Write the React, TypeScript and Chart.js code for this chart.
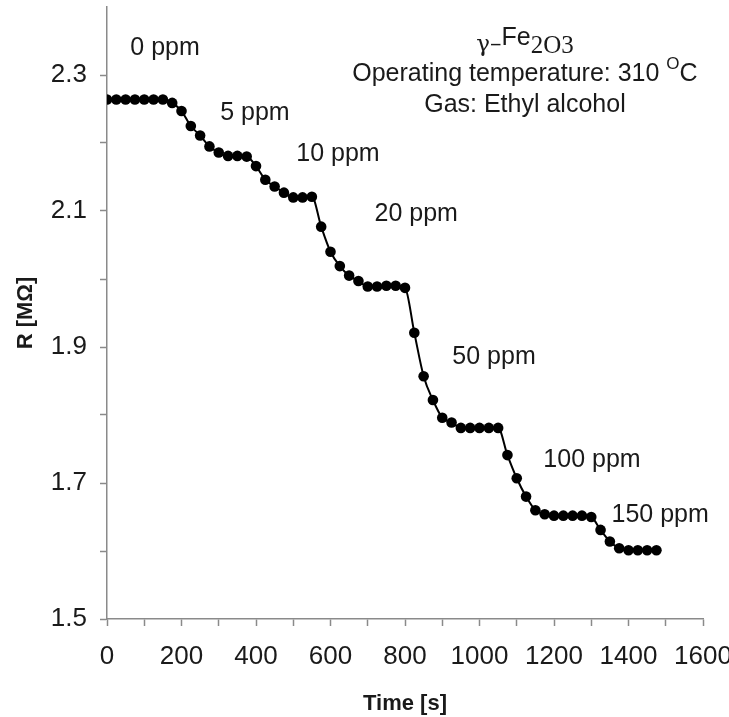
import React, { useEffect, useRef } from "react";
import { Chart, registerables } from "chart.js";

Chart.register(...registerables);

// Time [s] sampled every 25 s
const times: number[] = [
  0, 25, 50, 75, 100, 125, 150, 175, 200, 225, 250, 275, 300, 325, 350, 375, 400, 425, 450, 475,
  500, 525, 550, 575, 600, 625, 650, 675, 700, 725, 750, 775, 800, 825, 850, 875, 900, 925, 950, 975,
  1000, 1025, 1050, 1075, 1100, 1125, 1150, 1175, 1200, 1225, 1250, 1275, 1300, 1325, 1350, 1375, 1400, 1425, 1450, 1475,
];

// Resistance [MΩ]
const resistance: number[] = [
  2.264, 2.264, 2.264, 2.264, 2.264, 2.264, 2.264, 2.259, 2.247, 2.225,
  2.211, 2.195, 2.186, 2.181, 2.181, 2.180, 2.166, 2.146, 2.136, 2.127,
  2.120, 2.120, 2.121, 2.077, 2.040, 2.019, 2.005, 1.997, 1.989, 1.989,
  1.990, 1.990, 1.987, 1.921, 1.857, 1.822, 1.796, 1.789, 1.781, 1.781,
  1.781, 1.781, 1.781, 1.741, 1.707, 1.680, 1.660, 1.654, 1.652, 1.652,
  1.652, 1.652, 1.650, 1.631, 1.614, 1.604, 1.601, 1.601, 1.601, 1.601,
];

const yLabeledTicks: number[] = [1.5, 1.7, 1.9, 2.1, 2.3];
const xLabeledTicks: number[] = [0, 200, 400, 600, 800, 1000, 1200, 1400, 1600];

// concentration annotations (text, anchor time, anchor R)
const concLabels: string[] = ["0 ppm", "5 ppm", "10 ppm", "20 ppm", "50 ppm", "100 ppm", "150 ppm"];
const concX: number[] = [156, 397, 620, 830, 1039, 1302, 1485];
const concY: number[] = [2.34, 2.244, 2.183, 2.095, 1.885, 1.734, 1.653];

const infoX = 1122;
const infoY: number[] = [2.348, 2.301, 2.255];

const FONT = "'Liberation Sans', Arial, sans-serif";
const TEXT = "#1a1a1a";
const AXIS = "#8a8a8a";
const ANN_SIZE = 25;

const annotationPlugin = {
  id: "annots",
  afterDraw(chart: any) {
    const { ctx, scales } = chart;
    const xs = scales.x;
    const ys = scales.y;
    ctx.save();
    ctx.fillStyle = TEXT;
    ctx.textBaseline = "middle";
    ctx.textAlign = "center";
    ctx.font = `${ANN_SIZE}px ${FONT}`;
    concLabels.forEach((t, i) => {
      ctx.fillText(t, xs.getPixelForValue(concX[i]), ys.getPixelForValue(concY[i]));
    });

    const cx = xs.getPixelForValue(infoX);
    // line 1: γ–Fe2O3 (mixed)
    {
      const y = ys.getPixelForValue(infoY[0]);
      const p1 = "\u03b3\u2013";
      const p2 = "Fe";
      const p3 = "2O3";
      const f1 = `23px 'DejaVu Serif', serif`;
      const f2 = `${ANN_SIZE}px ${FONT}`;
      const f3 = `25px 'Liberation Serif', serif`;
      ctx.font = f1; const w1 = ctx.measureText(p1).width;
      ctx.font = f2; const w2 = ctx.measureText(p2).width;
      ctx.font = f3; const w3 = ctx.measureText(p3).width;
      let x = cx - (w1 + w2 + w3) / 2;
      ctx.textAlign = "left";
      ctx.font = f1; ctx.fillText(p1, x, y + 3); x += w1;
      ctx.font = f2; ctx.fillText(p2, x, y - 4); x += w2;
      ctx.font = f3; ctx.fillText(p3, x, y + 4);
    }
    // line 2: Operating temperature: 310 °C
    {
      const y = ys.getPixelForValue(infoY[1]);
      const a = "Operating temperature: 310 ";
      const b = "O";
      const c = "C";
      ctx.font = `${ANN_SIZE}px ${FONT}`; const wa = ctx.measureText(a).width; const wc = ctx.measureText(c).width;
      ctx.font = `17px ${FONT}`; const wb = ctx.measureText(b).width;
      let x = cx - (wa + wb + wc) / 2;
      ctx.textAlign = "left";
      ctx.font = `${ANN_SIZE}px ${FONT}`; ctx.fillText(a, x, y); x += wa;
      ctx.font = `17px ${FONT}`; ctx.fillText(b, x, y - 10); x += wb;
      ctx.font = `${ANN_SIZE}px ${FONT}`; ctx.fillText(c, x, y);
    }
    // line 3
    {
      const y = ys.getPixelForValue(infoY[2]);
      ctx.textAlign = "center";
      ctx.font = `${ANN_SIZE}px ${FONT}`;
      ctx.fillText("Gas: Ethyl alcohol", cx, y);
    }
    ctx.restore();
  },
};

export default function App() {
  const ref = useRef<HTMLCanvasElement | null>(null);
  useEffect(() => {
    if (!ref.current) return;
    const chart = new Chart(ref.current, {
      type: "line",
      data: {
        datasets: [
          {
            data: times.map((t, i) => ({ x: t, y: resistance[i] })),
            borderColor: "#000",
            backgroundColor: "#000",
            borderWidth: 2,
            pointRadius: 5.3,
            pointBorderWidth: 0,
            pointBackgroundColor: "#000",
            cubicInterpolationMode: "monotone",
          },
        ],
      },
      options: {
        responsive: false,
        animation: false,
        layout: { padding: { top: 7, right: 26, left: 0, bottom: 0 } },
        plugins: { legend: { display: false }, tooltip: { enabled: false } },
        scales: {
          x: {
            type: "linear",
            min: 0,
            max: 1600,
            afterFit(scale: any) {
              scale.height = 98;
              scale.paddingLeft = 0;
              scale.paddingRight = 0;
            },
            afterBuildTicks(scale: any) {
              const t: any[] = [];
              for (let v = 0; v <= 1600; v += 100) t.push({ value: v });
              scale.ticks = t;
            },
            grid: {
              drawOnChartArea: false,
              drawTicks: true,
              tickLength: 7,
              tickColor: AXIS,
              tickWidth: 1.5,
            },
            border: { color: AXIS, width: 1.5 },
            ticks: {
              autoSkip: false,
              maxRotation: 0,
              padding: 15,
              color: TEXT,
              font: { family: FONT, size: 26 },
              callback: (v: any) => (xLabeledTicks.includes(Number(v)) ? String(v) : ""),
            },
            title: {
              display: true,
              text: "Time [s]",
              color: TEXT,
              font: { family: FONT, size: 22, weight: "bold" },
              padding: { top: 0, bottom: 0 },
            },
          },
          y: {
            type: "linear",
            min: 1.5,
            max: 2.4,
            afterFit(scale: any) {
              scale.width = 107;
              scale.paddingTop = 0;
              scale.paddingBottom = 0;
            },
            afterBuildTicks(scale: any) {
              const t: any[] = [];
              for (let k = 15; k <= 23; k++) t.push({ value: k / 10 });
              scale.ticks = t;
            },
            grid: {
              drawOnChartArea: false,
              drawTicks: true,
              tickLength: 7,
              tickColor: AXIS,
              tickWidth: 1.5,
            },
            border: { color: AXIS, width: 1.5 },
            ticks: {
              autoSkip: false,
              padding: 13,
              color: TEXT,
              font: { family: FONT, size: 26 },
              callback: (v: any) => {
                const n = Math.round(Number(v) * 10) / 10;
                return yLabeledTicks.some((q) => Math.abs(q - n) < 1e-6) ? n.toFixed(1) : "";
              },
            },
            title: {
              display: true,
              text: "R [M\u03a9]",
              color: TEXT,
              font: { family: FONT, size: 22, weight: "bold" },
              padding: { top: 13, bottom: 0 },
            },
          },
        },
      },
      plugins: [annotationPlugin],
    } as any);
    return () => chart.destroy();
  }, []);
  return (
    <div style={{ position: "absolute", left: 0, top: 0, width: 729, height: 717, background: "#fff" }}>
      <canvas ref={ref} width={729} height={717} style={{ display: "block" }} />
    </div>
  );
}
